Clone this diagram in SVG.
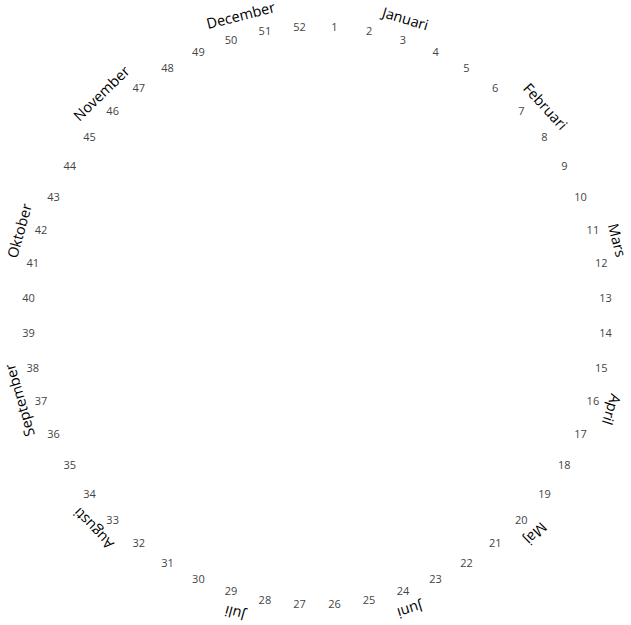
<svg xmlns="http://www.w3.org/2000/svg" width="631" height="625" viewBox="0 0 631 625">
<style>
.w{font-family:"Open Sans","DejaVu Sans",sans-serif;font-size:11px;fill:#444;text-anchor:middle;dominant-baseline:central}
.m{font-family:"Open Sans","DejaVu Sans",sans-serif;font-size:14.5px;fill:#000;text-anchor:middle}
</style>
<rect width="631" height="625" fill="#fff"/>
<g id="weeks" transform="translate(317,315)">
<g id="w1" transform="rotate(3.462) translate(0,-289) rotate(-3.462)"><text class="w">1</text></g>
<g id="w2" transform="rotate(10.385) translate(0,-289) rotate(-10.385)"><text class="w">2</text></g>
<g id="w3" transform="rotate(17.308) translate(0,-289) rotate(-17.308)"><text class="w">3</text></g>
<g id="w4" transform="rotate(24.231) translate(0,-289) rotate(-24.231)"><text class="w">4</text></g>
<g id="w5" transform="rotate(31.154) translate(0,-289) rotate(-31.154)"><text class="w">5</text></g>
<g id="w6" transform="rotate(38.077) translate(0,-289) rotate(-38.077)"><text class="w">6</text></g>
<g id="w7" transform="rotate(45) translate(0,-289) rotate(-45)"><text class="w">7</text></g>
<g id="w8" transform="rotate(51.923) translate(0,-289) rotate(-51.923)"><text class="w">8</text></g>
<g id="w9" transform="rotate(58.846) translate(0,-289) rotate(-58.846)"><text class="w">9</text></g>
<g id="w10" transform="rotate(65.769) translate(0,-289) rotate(-65.769)"><text class="w">10</text></g>
<g id="w11" transform="rotate(72.692) translate(0,-289) rotate(-72.692)"><text class="w">11</text></g>
<g id="w12" transform="rotate(79.615) translate(0,-289) rotate(-79.615)"><text class="w">12</text></g>
<g id="w13" transform="rotate(86.538) translate(0,-289) rotate(-86.538)"><text class="w">13</text></g>
<g id="w14" transform="rotate(93.462) translate(0,-289) rotate(-93.462)"><text class="w">14</text></g>
<g id="w15" transform="rotate(100.385) translate(0,-289) rotate(-100.385)"><text class="w">15</text></g>
<g id="w16" transform="rotate(107.308) translate(0,-289) rotate(-107.308)"><text class="w">16</text></g>
<g id="w17" transform="rotate(114.231) translate(0,-289) rotate(-114.231)"><text class="w">17</text></g>
<g id="w18" transform="rotate(121.154) translate(0,-289) rotate(-121.154)"><text class="w">18</text></g>
<g id="w19" transform="rotate(128.077) translate(0,-289) rotate(-128.077)"><text class="w">19</text></g>
<g id="w20" transform="rotate(135) translate(0,-289) rotate(-135)"><text class="w">20</text></g>
<g id="w21" transform="rotate(141.923) translate(0,-289) rotate(-141.923)"><text class="w">21</text></g>
<g id="w22" transform="rotate(148.846) translate(0,-289) rotate(-148.846)"><text class="w">22</text></g>
<g id="w23" transform="rotate(155.769) translate(0,-289) rotate(-155.769)"><text class="w">23</text></g>
<g id="w24" transform="rotate(162.692) translate(0,-289) rotate(-162.692)"><text class="w">24</text></g>
<g id="w25" transform="rotate(169.615) translate(0,-289) rotate(-169.615)"><text class="w">25</text></g>
<g id="w26" transform="rotate(176.538) translate(0,-289) rotate(-176.538)"><text class="w">26</text></g>
<g id="w27" transform="rotate(183.462) translate(0,-289) rotate(-183.462)"><text class="w">27</text></g>
<g id="w28" transform="rotate(190.385) translate(0,-289) rotate(-190.385)"><text class="w">28</text></g>
<g id="w29" transform="rotate(197.308) translate(0,-289) rotate(-197.308)"><text class="w">29</text></g>
<g id="w30" transform="rotate(204.231) translate(0,-289) rotate(-204.231)"><text class="w">30</text></g>
<g id="w31" transform="rotate(211.154) translate(0,-289) rotate(-211.154)"><text class="w">31</text></g>
<g id="w32" transform="rotate(218.077) translate(0,-289) rotate(-218.077)"><text class="w">32</text></g>
<g id="w33" transform="rotate(225) translate(0,-289) rotate(-225)"><text class="w">33</text></g>
<g id="w34" transform="rotate(231.923) translate(0,-289) rotate(-231.923)"><text class="w">34</text></g>
<g id="w35" transform="rotate(238.846) translate(0,-289) rotate(-238.846)"><text class="w">35</text></g>
<g id="w36" transform="rotate(245.769) translate(0,-289) rotate(-245.769)"><text class="w">36</text></g>
<g id="w37" transform="rotate(252.692) translate(0,-289) rotate(-252.692)"><text class="w">37</text></g>
<g id="w38" transform="rotate(259.615) translate(0,-289) rotate(-259.615)"><text class="w">38</text></g>
<g id="w39" transform="rotate(266.538) translate(0,-289) rotate(-266.538)"><text class="w">39</text></g>
<g id="w40" transform="rotate(273.462) translate(0,-289) rotate(-273.462)"><text class="w">40</text></g>
<g id="w41" transform="rotate(280.385) translate(0,-289) rotate(-280.385)"><text class="w">41</text></g>
<g id="w42" transform="rotate(287.308) translate(0,-289) rotate(-287.308)"><text class="w">42</text></g>
<g id="w43" transform="rotate(294.231) translate(0,-289) rotate(-294.231)"><text class="w">43</text></g>
<g id="w44" transform="rotate(301.154) translate(0,-289) rotate(-301.154)"><text class="w">44</text></g>
<g id="w45" transform="rotate(308.077) translate(0,-289) rotate(-308.077)"><text class="w">45</text></g>
<g id="w46" transform="rotate(315) translate(0,-289) rotate(-315)"><text class="w">46</text></g>
<g id="w47" transform="rotate(321.923) translate(0,-289) rotate(-321.923)"><text class="w">47</text></g>
<g id="w48" transform="rotate(328.846) translate(0,-289) rotate(-328.846)"><text class="w">48</text></g>
<g id="w49" transform="rotate(335.769) translate(0,-289) rotate(-335.769)"><text class="w">49</text></g>
<g id="w50" transform="rotate(342.692) translate(0,-289) rotate(-342.692)"><text class="w">50</text></g>
<g id="w51" transform="rotate(349.615) translate(0,-289) rotate(-349.615)"><text class="w">51</text></g>
<g id="w52" transform="rotate(356.538) translate(0,-289) rotate(-356.538)"><text class="w">52</text></g>
</g>
<g id="months" transform="translate(317,315)">
<g id="januari" transform="rotate(16.6) translate(0,-304)"><text class="m">Januari</text></g>
<g id="februari" transform="rotate(47.6) translate(0,-304)"><text class="m">Februari</text></g>
<g id="mars" transform="rotate(76) translate(0,-304)"><text class="m">Mars</text></g>
<g id="april" transform="rotate(107.8) translate(0,-304)"><text class="m">April</text></g>
<g id="maj" transform="rotate(135) translate(0,-304)"><text class="m">Maj</text></g>
<g id="juni" transform="rotate(162.5) translate(0,-304)"><text class="m">Juni</text></g>
<g id="juli" transform="rotate(195.4) translate(0,-304)"><text class="m">Juli</text></g>
<g id="augusti" transform="rotate(226.3) translate(0,-304)"><text class="m">Augusti</text></g>
<g id="september" transform="rotate(254) translate(0,-304)"><text class="m">September</text></g>
<g id="oktober" transform="rotate(285.8) translate(0,-304)"><text class="m">Oktober</text></g>
<g id="november" transform="rotate(315.8) translate(0,-304)"><text class="m">November</text></g>
<g id="december" transform="rotate(345.7) translate(0,-304)"><text class="m">December</text></g>
</g>
</svg>
